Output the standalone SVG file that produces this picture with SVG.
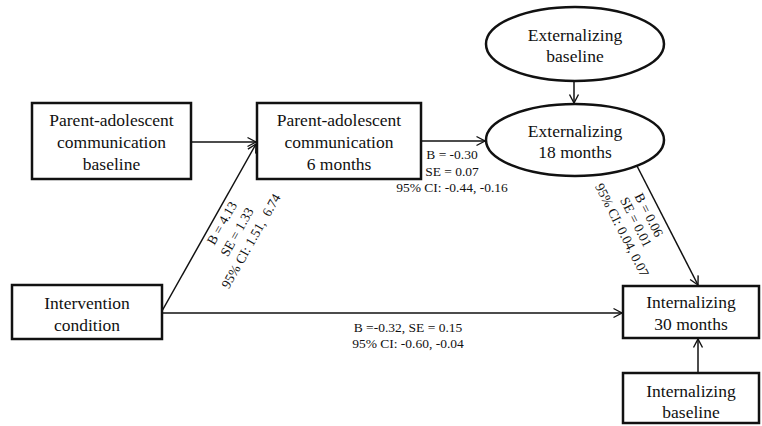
<svg xmlns="http://www.w3.org/2000/svg" width="762" height="426" viewBox="0 0 762 426">
<style>
.box{fill:#fff;stroke:#111;stroke-width:2.5}
.t{font-family:"Liberation Serif","Times New Roman","DejaVu Serif",serif;font-size:17.5px;fill:#111;text-anchor:middle}
.l{font-family:"Liberation Serif","Times New Roman","DejaVu Serif",serif;font-size:13.5px;fill:#111;text-anchor:middle}
.c{fill:none;stroke:#111;stroke-width:1.5}
</style>
<defs>
<marker id="arr" markerUnits="userSpaceOnUse" markerWidth="12" markerHeight="12" refX="10" refY="6" orient="auto">
<path d="M1.5,1.5 L10,6 L1.5,10.5" fill="none" stroke="#111" stroke-width="1.4"/>
</marker>
</defs>
<rect width="762" height="426" fill="#fff"/>
<g id="connectors">
<line class="c" x1="191" y1="142" x2="256" y2="142" marker-end="url(#arr)"/>
<line class="c" x1="162" y1="311" x2="256" y2="144" marker-end="url(#arr)"/>
<line class="c" x1="421" y1="141" x2="485" y2="141" marker-end="url(#arr)"/>
<line class="c" x1="574" y1="81" x2="574" y2="103" marker-end="url(#arr)"/>
<line class="c" x1="637" y1="166" x2="698" y2="285" marker-end="url(#arr)"/>
<line class="c" x1="162" y1="313" x2="622" y2="313" marker-end="url(#arr)"/>
<line class="c" x1="698" y1="373" x2="698" y2="339" marker-end="url(#arr)"/>
<g class="l">
<text x="452" y="159">B = -0.30</text>
<text x="452" y="175.5">SE = 0.07</text>
<text x="452" y="192">95% CI: -0.44, -0.16</text>
<text x="408" y="332">B =-0.32, SE = 0.15</text>
<text x="408" y="348">95% CI: -0.60, -0.04</text>
<g transform="translate(222,223) rotate(-60.5)"><text x="0" y="4.5">B = 4.13</text></g>
<g transform="translate(237,232) rotate(-60.5)"><text x="0" y="4.5">SE = 1.33</text></g>
<g transform="translate(251,241) rotate(-60.5)"><text x="0" y="4.5">95% CI: 1.51,&#160; 6.74</text></g>
<g transform="translate(649,215) rotate(63)"><text x="0" y="4.5">B = 0.06</text></g>
<g transform="translate(636,222) rotate(63)"><text x="0" y="4.5">SE = 0.01</text></g>
<g transform="translate(622,230) rotate(63)"><text x="0" y="4.5">95% CI: 0.04, 0.07</text></g>
</g>
</g>
<g id="pac-baseline">
<rect class="box" x="32" y="103" width="159" height="76"/>
<text class="t" x="111.5" y="126">Parent-adolescent</text>
<text class="t" x="111.5" y="148">communication</text>
<text class="t" x="111.5" y="170">baseline</text>
</g>
<g id="pac-6">
<rect class="box" x="257" y="103" width="164" height="76"/>
<text class="t" x="339" y="126">Parent-adolescent</text>
<text class="t" x="339" y="148">communication</text>
<text class="t" x="339" y="170">6 months</text>
</g>
<g id="ext-baseline">
<ellipse class="box" cx="575" cy="44" rx="89" ry="37"/>
<text class="t" x="575" y="41">Externalizing</text>
<text class="t" x="575" y="62">baseline</text>
</g>
<g id="ext-18">
<ellipse class="box" cx="575" cy="140" rx="89" ry="36"/>
<text class="t" x="575" y="137">Externalizing</text>
<text class="t" x="575" y="158">18 months</text>
</g>
<g id="intervention">
<rect class="box" x="12" y="285" width="150" height="54"/>
<text class="t" x="87" y="309">Intervention</text>
<text class="t" x="87" y="331">condition</text>
</g>
<g id="int-30">
<rect class="box" x="623" y="286" width="136" height="52"/>
<text class="t" x="691" y="308">Internalizing</text>
<text class="t" x="691" y="330">30 months</text>
</g>
<g id="int-baseline">
<rect class="box" x="623" y="373" width="136" height="50"/>
<text class="t" x="691" y="397">Internalizing</text>
<text class="t" x="691" y="418">baseline</text>
</g>
</svg>
